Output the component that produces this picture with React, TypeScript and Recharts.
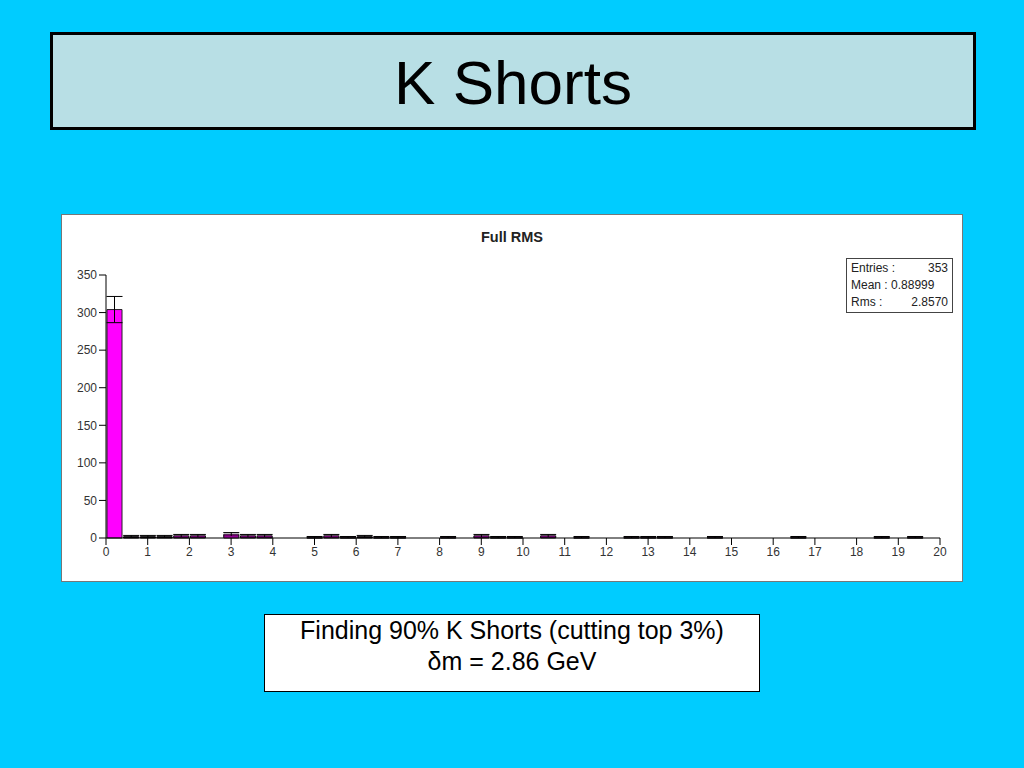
import { BarChart, Bar, XAxis, YAxis, ErrorBar } from "recharts"

// histogram "Full RMS": 50 bins of 0.4 between 0 and 20
const BIN_WIDTH = 0.4
const counts = [
  304, 2, 2, 2, 3, 3, 0, 5, 3, 3,
  0, 0, 1, 3, 1, 2, 1, 1, 0, 0,
  1, 0, 3, 1, 1, 0, 3, 0, 1, 0,
  0, 1, 1, 1, 0, 0, 1, 0, 0, 0,
  0, 1, 0, 0, 0, 0, 1, 0, 1, 0,
]
const xTicks = [0, 1, 2, 3, 4, 5, 6, 7, 8, 9, 10, 11, 12, 13, 14, 15, 16, 17, 18, 19, 20]
const yTicks = [0, 50, 100, 150, 200, 250, 300, 350]
const statsRows = [
  ["Entries :", "353"],
  ["Mean : 0.88999", ""],
  ["Rms :", "2.8570"],
]

const data = counts.map((c, i) => ({
  x: i * BIN_WIDTH + BIN_WIDTH / 2,
  count: c,
  err: Math.sqrt(c),
}))

const CHART_W = 900
const CHART_H = 366
const MARGIN = { top: 60, right: 22, left: 4, bottom: 16 }
const Y_AXIS_W = 40
const PLOT_W = CHART_W - MARGIN.left - MARGIN.right - Y_AXIS_W

const font = "'Liberation Sans', Arial, sans-serif"
const tickStyle = { fill: "#333", fontSize: 12, fontFamily: font }

export default function App() {
  return (
    <div
      style={{
        position: "absolute",
        left: 0,
        top: 0,
        width: 1024,
        height: 768,
        background: "#00ccff",
        fontFamily: font,
        overflow: "hidden",
      }}
    >
      <div
        style={{
          position: "absolute",
          left: 50,
          top: 32,
          width: 920,
          height: 92,
          border: "3px solid #000",
          background: "#b8dfe5",
          textAlign: "center",
          fontSize: 62,
          lineHeight: "96px",
          color: "#000",
        }}
      >
        K Shorts
      </div>

      <div
        style={{
          position: "absolute",
          left: 62,
          top: 215,
          width: CHART_W,
          height: CHART_H,
          background: "#fff",
          outline: "1px solid #777",
        }}
      >
        <div
          style={{
            position: "absolute",
            left: 0,
            top: 14,
            width: "100%",
            textAlign: "center",
            fontSize: 14.5,
            fontWeight: "bold",
            color: "#222",
          }}
        >
          Full RMS
        </div>
        <BarChart
          width={CHART_W}
          height={CHART_H}
          data={data}
          margin={MARGIN}
          barCategoryGap={0}
          barGap={0}
        >
          <XAxis
            dataKey="x"
            type="number"
            domain={[0, 20]}
            ticks={xTicks}
            interval={0}
            stroke="#000"
            tickSize={7}
            tick={tickStyle}
            height={27}
          />
          <YAxis
            type="number"
            domain={[0, 350]}
            ticks={yTicks}
            interval={0}
            width={Y_AXIS_W}
            stroke="#000"
            tickSize={7}
            tick={tickStyle}
          />
          <Bar
            dataKey="count"
            fill="#ff00ff"
            stroke="#222"
            strokeWidth={1}
            barSize={PLOT_W / counts.length}
            isAnimationActive={false}
          >
            <ErrorBar dataKey="err" width={8} stroke="#000" strokeWidth={1} direction="y" />
          </Bar>
        </BarChart>
        <div
          style={{
            position: "absolute",
            left: 784,
            top: 43,
            width: 97,
            padding: "1px 4px",
            border: "1px solid #444",
            background: "#fff",
            fontSize: 12,
            lineHeight: "17px",
            color: "#222",
          }}
        >
          {statsRows.map(([a, b]) => (
            <div key={a} style={{ display: "flex", justifyContent: "space-between" }}>
              <span>{a}</span>
              <span>{b}</span>
            </div>
          ))}
        </div>
      </div>

      <div
        style={{
          position: "absolute",
          left: 264,
          top: 614,
          width: 494,
          height: 76,
          border: "1px solid #000",
          background: "#fff",
          textAlign: "center",
          fontSize: 25,
          lineHeight: "31px",
          color: "#000",
        }}
      >
        <div>Finding 90% K Shorts (cutting top 3%)</div>
        <div>δm = 2.86 GeV</div>
      </div>
    </div>
  )
}
